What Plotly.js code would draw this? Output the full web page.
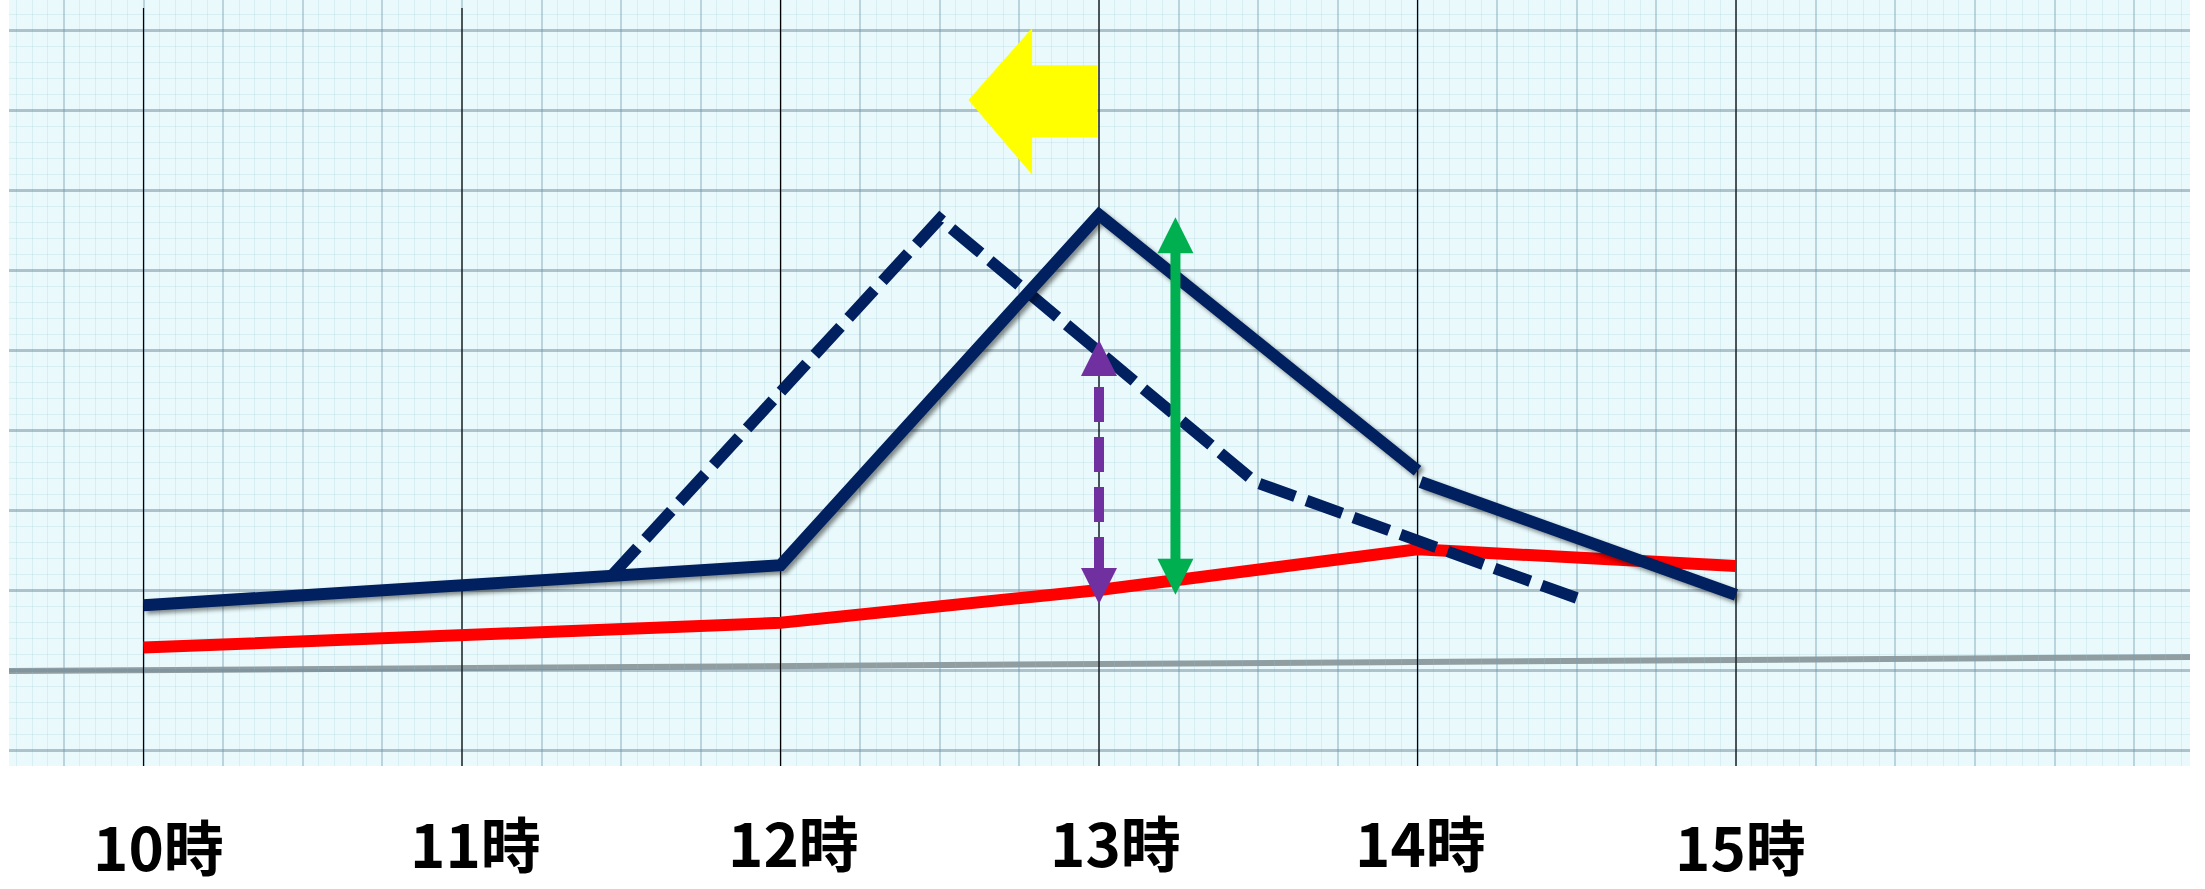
<!DOCTYPE html>
<html>
<head>
<meta charset="utf-8">
<script src="https://cdn.plot.ly/plotly-3.0.1.min.js"></script>
<style>
html, body { margin: 0; padding: 0; background: #ffffff; }
#chart { width: 2205px; height: 889px; }
</style>
</head>
<body>
<div id="chart"></div>
<script>
// ---------------- data ----------------
const hours = [10, 11, 12, 13, 14, 15];
const hourLabels = ['10時', '11時', '12時', '13時', '14時', '15時'];

// solid navy line (two pieces, small break at 14時)
const solidX1 = [10, 12, 13, 14];
const solidY1 = [0.81, 1.31, 5.69, 2.49];
const solidX2 = [14.01, 15];
const solidY2 = [2.35, 0.94];

// dashed navy line
const dashX = [11.47, 12.5, 13.49, 14.5];
const dashY = [1.18, 5.64, 2.35, 0.90];

// red line
const redX = [10, 12, 13, 14, 15];
const redY = [0.28, 0.59, 1.00, 1.51, 1.30];

// purple dashed double arrow (bottom tip, top tip)
const purpleX = [13.0, 13.0];
const purpleY = [0.825, 4.125];

// green double arrow (bottom tip, top tip)
const greenX = [13.24, 13.24];
const greenY = [0.94, 5.66];

// yellow block arrow: x = [tip, head back, tail], y = [tip, head top, head bottom, shaft top, shaft bottom]
const yellowArrowX = [12.59, 12.79, 12.995];
const yellowArrowY = [7.125, 8.025, 6.19, 7.56, 6.66];

// ---------------- styling ----------------
const X_RANGE = [9.5777, 16.4254];
const Y_RANGE = [-1.2, 8.375];
const PLOT_H = 766;
const NAVY = '#002060', RED = '#ff0000', GREEN = '#00b050', PURPLE = '#7030a0', YELLOW = '#ffff00';
const HEAD = 36;                 // arrow head size in px
const headUnits = (HEAD - 4) / (PLOT_H / (Y_RANGE[1] - Y_RANGE[0]));
const labelXShift = [15, 13, 13, 16, 3, 4];
const labelCenterPx = [844, 841, 840, 840, 840, 844];
const hourLineTopPx = [8, 8, 0, 0, 0, 0];
const baselinePx = [671, 657];   // left / right end of the grey base rule

const pxToY = p => Y_RANGE[1] - p / PLOT_H * (Y_RANGE[1] - Y_RANGE[0]);
const hlX = [], hlY = [];
hours.forEach((h, i) => { hlX.push(h, h, null); hlY.push(pxToY(hourLineTopPx[i]), Y_RANGE[0], null); });

const traces = [
  { x: hlX, y: hlY, mode: 'lines', line: { color: '#000000', width: 1.2 }, hoverinfo: 'skip' },
  { x: redX, y: redY, mode: 'lines', line: { color: RED, width: 12 } },
  { x: dashX, y: dashY, mode: 'lines', line: { color: NAVY, width: 11.5, dash: '38px,12px' } },
  { x: solidX1, y: solidY1, mode: 'lines', line: { color: NAVY, width: 12 } },
  { x: solidX2, y: solidY2, mode: 'lines', line: { color: NAVY, width: 12 } },
  { x: purpleX, y: [purpleY[0] + headUnits, purpleY[1] - headUnits], mode: 'lines',
    line: { color: PURPLE, width: 10, dash: '35px,15px' } },
  { x: purpleX, y: purpleY, mode: 'markers',
    marker: { symbol: ['arrow-down', 'arrow-up'], size: HEAD, color: PURPLE, line: { width: 0 } } },
  { x: greenX, y: [greenY[0] + headUnits, greenY[1] - headUnits], mode: 'lines',
    line: { color: GREEN, width: 10 } },
  { x: greenX, y: greenY, mode: 'markers',
    marker: { symbol: ['arrow-down', 'arrow-up'], size: HEAD, color: GREEN, line: { width: 0 } } }
];

const [tx, hx, sx] = yellowArrowX;
const [ty, hTop, hBot, sTop, sBot] = yellowArrowY;
const yellowPath = `M${tx},${ty} L${hx},${hTop} L${hx},${sTop} L${sx},${sTop} L${sx},${sBot} L${hx},${sBot} L${hx},${hBot} Z`;

const annotations = hours.map((h, i) => ({
  x: h, xref: 'x', y: (PLOT_H - labelCenterPx[i]) / PLOT_H, yref: 'paper',
  text: hourLabels[i], showarrow: false, xanchor: 'center', yanchor: 'middle',
  xshift: labelXShift[i], borderpad: 0,
  font: { family: '"Noto Sans CJK JP", "Noto Sans CJK SC", sans-serif', size: 60, color: '#000000', weight: 700 }
}));

const layout = {
  width: 2205, height: 889,
  margin: { l: 9, r: 15, t: 0, b: 123, pad: 0 },
  paper_bgcolor: '#ffffff',
  plot_bgcolor: '#eafafc',
  showlegend: false,
  hovermode: false,
  xaxis: {
    range: X_RANGE, showticklabels: false, ticks: '', showline: false, zeroline: false,
    tick0: 10, dtick: 0.25, showgrid: true,
    gridcolor: 'rgba(120,160,178,0.42)', gridwidth: 2,
    minor: { tick0: 10, dtick: 0.05, showgrid: true, gridcolor: 'rgba(150,195,210,0.22)', gridwidth: 1, ticks: '' }
  },
  yaxis: {
    range: Y_RANGE, showticklabels: false, ticks: '', showline: false, zeroline: false,
    tick0: 0, dtick: 1, showgrid: true,
    gridcolor: 'rgba(110,140,155,0.5)', gridwidth: 3,
    minor: { tick0: 0, dtick: 0.2, showgrid: true, gridcolor: 'rgba(150,195,210,0.22)', gridwidth: 1, ticks: '' }
  },
  shapes: [
    { type: 'line', xref: 'paper', yref: 'paper', x0: 0, x1: 1,
      y0: (PLOT_H - baselinePx[0]) / PLOT_H, y1: (PLOT_H - baselinePx[1]) / PLOT_H,
      line: { color: 'rgba(105,118,124,0.7)', width: 6 }, layer: 'below' },
    { type: 'path', xref: 'x', yref: 'y', path: yellowPath, fillcolor: YELLOW, line: { width: 0 }, layer: 'above' }
  ],
  annotations: annotations
};

Plotly.newPlot('chart', traces, layout, { staticPlot: true, displayModeBar: false }).then(() => {
  const tr = document.querySelectorAll('.scatterlayer .trace');
  [3, 4].forEach(i => {
    if (tr[i]) tr[i].querySelectorAll('path.js-line').forEach(p => {
      p.style.filter = 'drop-shadow(3px 3px 2px rgba(0,0,0,0.45))';
    });
  });
});
</script>
</body>
</html>
